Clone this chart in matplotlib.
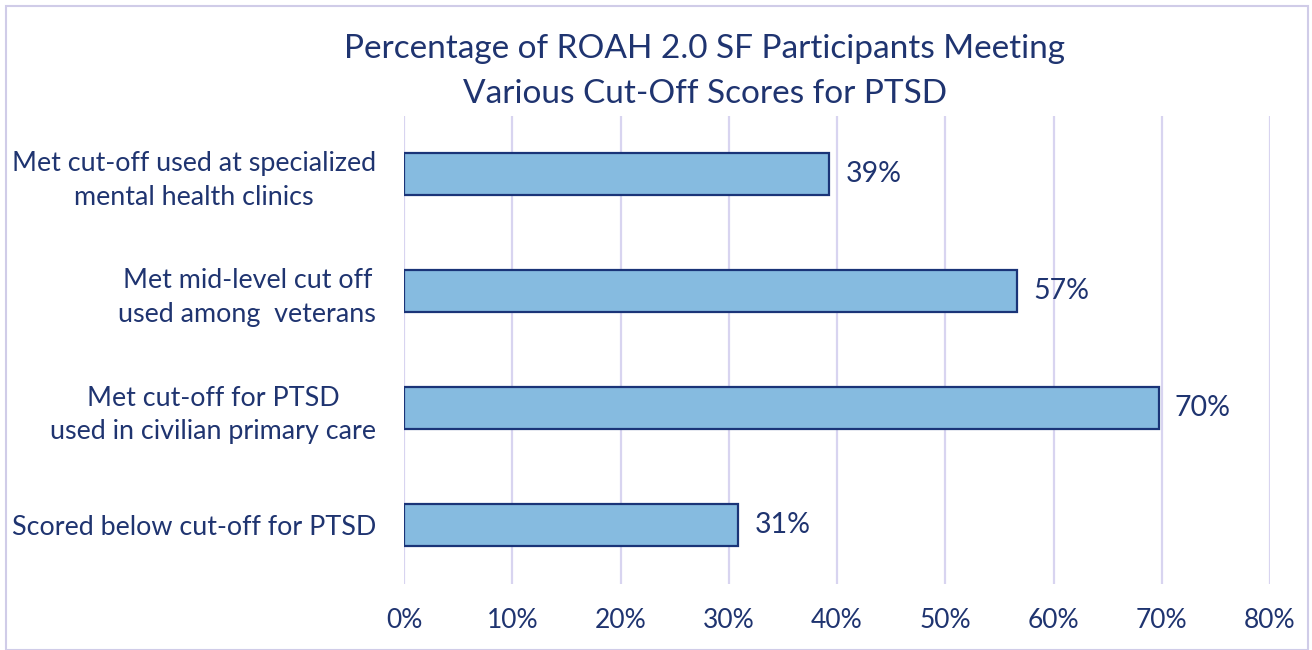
import matplotlib
matplotlib.use("Agg")
import matplotlib.pyplot as plt
from matplotlib.patches import Rectangle

categories = [
    "Met cut-off used at specialized\nmental health clinics",
    "Met mid-level cut off\nused among  veterans",
    "Met cut-off for PTSD\nused in civilian primary care",
    "Scored below cut-off for PTSD",
]
values = [39.3, 56.6, 69.7, 30.9]
value_labels = ["39%", "57%", "70%", "31%"]
xticks = [0, 10, 20, 30, 40, 50, 60, 70, 80]
xtick_labels = ["0%", "10%", "20%", "30%", "40%", "50%", "60%", "70%", "80%"]
title = "Percentage of ROAH 2.0 SF Participants Meeting\nVarious Cut-Off Scores for PTSD"

TEXT = "#1F3470"
BAR = "#86BBE0"
EDGE = "#1A3478"
GRID = "#D8D4F0"

plt.rcParams['font.family'] = ['Lato', 'DejaVu Sans']

fig = plt.figure(figsize=(13.12, 6.5), dpi=100)
ax = fig.add_axes([404/1312, 1-583.5/650, (1270-404)/1312, 468/650])

ypos = list(range(len(categories)))
ax.barh(ypos, values, height=0.36, color=BAR, edgecolor=EDGE, linewidth=1.6, zorder=3)
for y, v, lab in zip(ypos, values, value_labels):
    ax.text(v + 1.5, y, lab, va="center", ha="left", fontsize=20.5, color=TEXT)

ax.set_xlim(0, 80)
ax.set_ylim(len(categories) - 0.5, -0.5)
ax.set_xticks(xticks)
ax.set_xticklabels(xtick_labels, fontsize=19, color=TEXT)
ax.set_yticks(ypos)
ax.set_yticklabels(categories, fontsize=19.4, color=TEXT, ha="right",
                   multialignment="center", linespacing=1.42)
ax.tick_params(axis="both", length=0)
ax.tick_params(axis="y", pad=20)
ax.tick_params(axis="x", pad=18)
ax.grid(axis="x", color=GRID, linewidth=1.6, zorder=0)
ax.set_axisbelow(True)
for s in ax.spines.values():
    s.set_visible(False)

fig.text(705/1312, 1-71.5/650, title, ha="center", va="center", fontsize=24, color=TEXT, linespacing=1.62)

fig.patches.append(Rectangle((6/1312, 0.0), 1302/1312, 1-6/650, transform=fig.transFigure,
                             fill=False, edgecolor="#D0CCE8", linewidth=1.5))

fig.savefig("out.png", dpi=100)
